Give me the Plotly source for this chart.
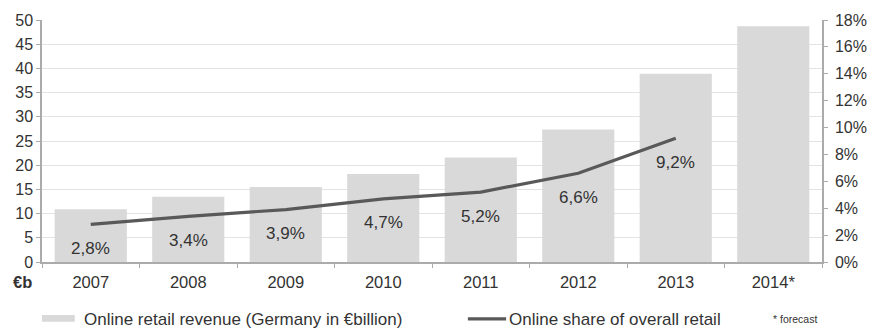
import plotly.graph_objects as go

years = ["2007", "2008", "2009", "2010", "2011", "2012", "2013", "2014*"]
revenue = [10.9, 13.5, 15.5, 18.2, 21.6, 27.4, 38.9, 48.7]
share_years = ["2007", "2008", "2009", "2010", "2011", "2012", "2013"]
share = [2.8, 3.4, 3.9, 4.7, 5.2, 6.6, 9.2]
share_labels = ["2,8%", "3,4%", "3,9%", "4,7%", "5,2%", "6,6%", "9,2%"]

FONT = "Liberation Sans, Arial, sans-serif"
TXT = "#333333"
AX = "#ababab"

fig = go.Figure()
fig.add_trace(go.Bar(x=years, y=revenue, marker=dict(color="#d9d9d9", line=dict(width=0)),
                     name="Online retail revenue (Germany in €billion)", yaxis="y"))
fig.add_trace(go.Scatter(x=share_years, y=share, mode="lines",
                         line=dict(color="#595959", width=3.2),
                         name="Online share of overall retail", yaxis="y2"))

for i, (v, lab) in enumerate(zip(share, share_labels)):
    fig.add_annotation(x=years.index(share_years[i]), y=v, xref="x", yref="y2", text=lab,
                       showarrow=False, yshift=-24,
                       font=dict(family=FONT, size=17, color=TXT))

# axis unit label
fig.add_annotation(x=0, y=0, xref="paper", yref="paper", text="<b>€b</b>", showarrow=False,
                   xanchor="right", yanchor="middle", xshift=-8, yshift=-20,
                   font=dict(family=FONT, size=16.5, color=TXT))

# manual legend
fig.add_shape(type="rect", xref="paper", yref="paper", x0=0.0, x1=0.042, y0=-0.219, y1=-0.247,
              fillcolor="#d9d9d9", line=dict(width=0))
fig.add_annotation(x=0.051, y=-0.237, xref="paper", yref="paper", showarrow=False,
                   text="Online retail revenue (Germany in €billion)", xanchor="left", yanchor="middle",
                   font=dict(family=FONT, size=17, color=TXT))
fig.add_shape(type="line", xref="paper", yref="paper", x0=0.546, x1=0.595, y0=-0.235, y1=-0.235,
              line=dict(color="#595959", width=3.2))
fig.add_annotation(x=0.596, y=-0.237, xref="paper", yref="paper", showarrow=False,
                   text="Online share of overall retail", xanchor="left", yanchor="middle",
                   font=dict(family=FONT, size=17, color=TXT))
fig.add_annotation(x=0.966, y=-0.237, xref="paper", yref="paper", showarrow=False,
                   text="* forecast", xanchor="center", yanchor="middle",
                   font=dict(family=FONT, size=10.5, color=TXT))

fig.update_layout(
    width=879, height=331,
    margin=dict(l=42, r=56, t=15, b=69),
    paper_bgcolor="white", plot_bgcolor="white",
    showlegend=False,
    bargap=0.26,
    font=dict(family=FONT, size=15, color=TXT),
    xaxis=dict(type="category", categoryorder="array", categoryarray=years,
               showline=True, linecolor=AX, linewidth=1.5,
               ticks="outside", tickson="boundaries", ticklen=4, tickcolor=AX,
               ticklabelstandoff=4,
               showgrid=False, tickfont=dict(size=16.5, color=TXT)),
    yaxis=dict(range=[0, 50], dtick=5, showline=True, linecolor=AX, linewidth=1.5,
               ticks="outside", ticklen=4, tickcolor=AX,
               showgrid=True, gridcolor="#e3e3e3", gridwidth=1.3, zeroline=False,
               tickfont=dict(size=16, color=TXT)),
    yaxis2=dict(range=[0, 18], dtick=2, overlaying="y", side="right", ticksuffix="%",
                showline=True, linecolor=AX, linewidth=1.5,
                ticks="outside", ticklen=4, tickcolor=AX, ticklabelstandoff=4,
                showgrid=False, zeroline=False, tickfont=dict(size=16, color=TXT)),
)

fig.write_html("out.html")
